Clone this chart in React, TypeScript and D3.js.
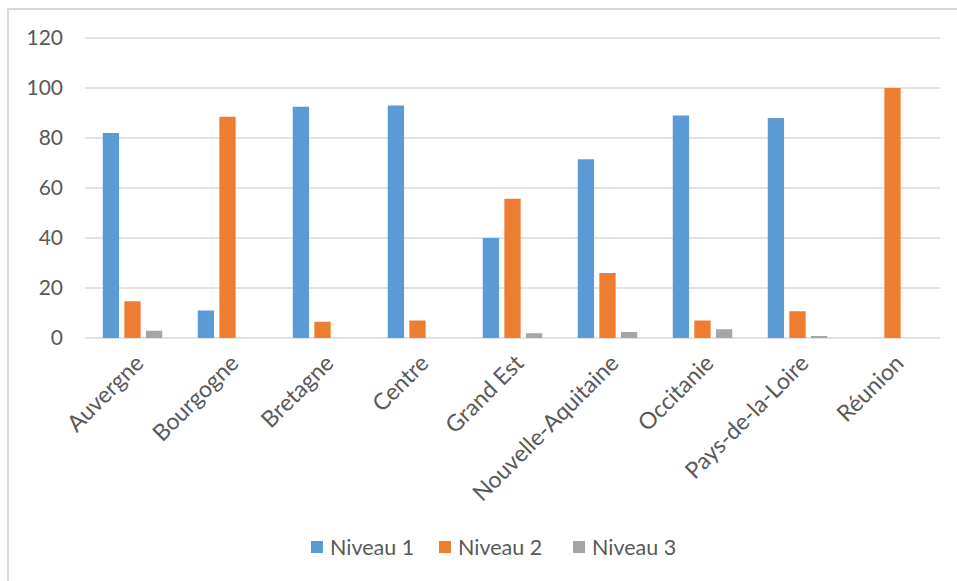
import React from "react";
import * as d3 from "d3";

const categories = ["Auvergne", "Bourgogne", "Bretagne", "Centre", "Grand Est", "Nouvelle-Aquitaine", "Occitanie", "Pays-de-la-Loire", "Réunion"];
const seriesNames = ["Niveau 1", "Niveau 2", "Niveau 3"];
const niveau1 = [82, 11, 92.5, 93, 40, 71.5, 89, 88, 0];
const niveau2 = [14.7, 88.5, 6.5, 7, 55.7, 26, 7, 10.7, 100];
const niveau3 = [2.9, 0, 0, 0, 1.9, 2.4, 3.5, 0.8, 0];
const yTicks = [0, 20, 40, 60, 80, 100, 120];
const colors = ["#5B9BD5", "#ED7D31", "#A5A5A5"];

const W = 957;
const H = 581;
const plotLeft = 85;
const plotRight = 940;
const plotTop = 38;
const plotBottom = 338;
const FONT = "Lato, 'Open Sans', sans-serif";
const TEXT = "#595959";
const GRID = "#d9d9d9";

export default function App() {
  const series = [niveau1, niveau2, niveau3];
  const x = d3.scaleBand<string>().domain(categories).range([plotLeft, plotRight]).paddingInner(0.374).paddingOuter(0.187);
  const xs = d3.scaleBand<string>().domain(seriesNames).range([0, x.bandwidth()]).paddingInner(0.245);
  const y = d3.scaleLinear().domain([0, 120]).range([plotBottom, plotTop]);

  const legendX = [311, 439, 573];

  return (
    <svg width={W} height={H} style={{ position: "absolute", left: 0, top: 0, background: "#fff" }}>
      <rect x={8} y={9} width={W + 20} height={H + 20} fill="#fff" stroke={GRID} strokeWidth={2} />
      {yTicks.map((t) => (
        <g key={t}>
          <line x1={plotLeft} x2={plotRight} y1={y(t)} y2={y(t)} stroke={GRID} strokeWidth={1.5} />
          <text x={63} y={y(t)} dy="0.35em" textAnchor="end" fontFamily={FONT} fontSize={21} fill={TEXT}>
            {t}
          </text>
        </g>
      ))}
      {categories.map((c, i) => (
        <g key={c} transform={`translate(${x(c)},0)`}>
          {series.map((s, j) =>
            s[i] > 0 ? (
              <rect
                key={j}
                x={xs(seriesNames[j])}
                y={y(s[i])}
                width={xs.bandwidth()}
                height={y(0) - y(s[i])}
                fill={colors[j]}
              />
            ) : null
          )}
        </g>
      ))}
      {categories.map((c) => {
        const cx = (x(c) as number) + x.bandwidth() / 2 + 7;
        return (
          <text
            key={c}
            transform={`translate(${cx},${plotBottom + 21}) rotate(-45)`}
            textAnchor="end"
            dy="0.35em"
            fontFamily={FONT}
            fontSize={23}
            fill={TEXT}
          >
            {c}
          </text>
        );
      })}
      {seriesNames.map((n, j) => (
        <g key={n} transform={`translate(${legendX[j]},541)`}>
          <rect x={0} y={0} width={12} height={12} fill={colors[j]} />
          <text x={19} y={6} dy="0.36em" fontFamily={FONT} fontSize={21.5} fill={TEXT}>
            {n}
          </text>
        </g>
      ))}
    </svg>
  );
}
